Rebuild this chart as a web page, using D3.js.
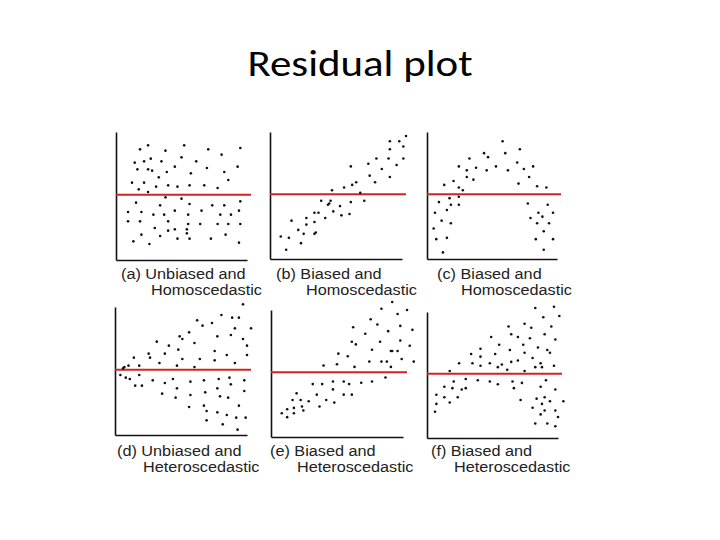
<!DOCTYPE html>
<html>
<head>
<meta charset="utf-8">
<script src="https://cdn.jsdelivr.net/npm/d3@7"></script>
<style>
  body { margin: 0; background: #fff; }
  .panel-label { font-family: "Liberation Sans", Arial, sans-serif; font-size: 14px; fill: #222; }
  .title { font-family: Carlito, Calibri, "Open Sans", sans-serif; font-size: 37px; fill: #000; }
</style>
</head>
<body>
<div id="chart"></div>
<script>
// residuals: [fitted value, residual]
var panelA = [[24,37],[51,37],[18,34],[37,33],[69,34],[93,35],[79,30],[49,28],[26,27],[21,25],[14,24],[34,25],[60,25],[44,21],[91,21],[68,20],[16,19],[24,19],[27,18],[38,17],[56,16],[81,17],[32,13],[84,11],[12,9],[21,9],[39,7],[55,7],[66,7],[46,6],[76,5],[30,6],[17,4],[24,2],[37,-2],[49,-3],[15,-6],[33,-8],[55,-7],[72,-8],[81,-8],[93,-5],[9,-13],[19,-13],[44,-12],[64,-12],[92,-12],[28,-15],[36,-15],[54,-15],[78,-15],[86,-15],[9,-20],[18,-20],[39,-20],[54,-22],[63,-22],[76,-22],[84,-22],[93,-22],[29,-25],[44,-26],[53,-26],[39,-27],[19,-30],[33,-31],[53,-29],[82,-30],[13,-35],[25,-37],[46,-33],[55,-33],[71,-33],[92,-36]];
var panelB = [[101,44],[89,40],[96,40],[89,34],[99,36],[79,27],[73,23],[88,27],[99,27],[60,21],[83,19],[94,22],[74,14],[89,13],[78,9],[64,9],[61,7],[55,5],[46,3],[67,1],[70,-5],[60,-6],[45,-5],[38,-5],[44,-7],[43,-8],[52,-9],[47,-13],[33,-14],[36,-14],[59,-15],[53,-16],[41,-18],[27,-18],[16,-20],[27,-23],[33,-21],[21,-27],[34,-29],[33,-30],[25,-30],[8,-32],[14,-33],[23,-37],[12,-42]];
var panelC = [[57,40],[43,31],[46,28],[59,31],[70,34],[32,27],[68,24],[24,21],[37,20],[52,21],[80,21],[30,18],[45,18],[61,18],[73,19],[30,13],[35,11],[77,13],[20,10],[13,7],[69,8],[24,5],[27,3],[83,6],[90,5],[24,-2],[17,-3],[9,-6],[18,-8],[24,-8],[76,-7],[6,-14],[15,-12],[84,-14],[91,-8],[95,-14],[87,-17],[78,-18],[83,-22],[92,-22],[11,-20],[18,-22],[5,-26],[88,-28],[7,-34],[15,-33],[82,-34],[95,-34],[12,-44],[88,-42]];
var panelD = [[95,49],[79,41],[87,39],[92,39],[61,37],[65,33],[72,35],[89,31],[101,31],[55,28],[48,25],[50,23],[76,25],[86,26],[95,23],[31,21],[59,20],[40,18],[47,15],[98,18],[74,14],[37,12],[25,12],[26,9],[14,9],[83,11],[98,11],[50,8],[63,8],[74,7],[33,5],[10,3],[7,2],[46,3],[59,2],[89,5],[18,3],[6,1],[4,-4],[8,-6],[11,-7],[18,-4],[28,-8],[43,-7],[37,-10],[56,-9],[66,-8],[77,-7],[85,-6],[96,-8],[15,-12],[20,-12],[46,-14],[76,-14],[86,-11],[35,-18],[45,-21],[56,-19],[67,-17],[78,-20],[84,-21],[96,-16],[66,-27],[55,-28],[68,-31],[92,-27],[76,-32],[83,-34],[90,-36],[97,-36],[68,-38],[80,-41],[91,-45]];
var panelE = [[90,53],[82,48],[101,47],[94,44],[74,40],[79,36],[96,35],[61,34],[70,29],[87,31],[105,32],[96,24],[60,23],[63,21],[81,23],[103,20],[75,17],[89,16],[90,16],[94,16],[50,14],[57,12],[97,10],[73,8],[82,8],[86,8],[106,8],[49,6],[39,5],[62,4],[89,4],[85,-4],[31,-9],[38,-9],[46,-7],[54,-7],[58,-9],[67,-8],[75,-7],[46,-13],[19,-16],[34,-17],[54,-17],[60,-17],[16,-21],[22,-21],[28,-22],[41,-21],[47,-23],[23,-26],[17,-27],[36,-26],[12,-28],[24,-29],[8,-31],[12,-34],[17,-31]];
var panelF = [[81,50],[95,51],[87,43],[99,44],[61,36],[73,38],[78,35],[93,36],[63,30],[68,28],[88,30],[48,28],[77,27],[96,26],[54,22],[72,22],[83,20],[40,19],[62,18],[90,18],[92,16],[33,15],[51,15],[73,16],[40,13],[79,12],[24,8],[34,8],[40,6],[47,8],[56,7],[63,9],[68,10],[85,8],[95,6],[53,5],[60,3],[81,5],[86,5],[17,2],[73,2],[89,-5],[20,-6],[29,-4],[38,-5],[47,-6],[53,-8],[64,-6],[71,-7],[13,-10],[19,-11],[29,-11],[26,-12],[65,-11],[85,-10],[96,-12],[7,-16],[13,-18],[23,-18],[17,-22],[7,-23],[70,-20],[82,-19],[88,-18],[92,-21],[102,-21],[86,-23],[79,-26],[88,-28],[96,-28],[6,-29],[85,-31],[98,-33],[81,-38],[90,-38],[96,-40]];

var panelData = [panelA, panelB, panelC, panelD, panelE, panelF];
var panelLabels = [
    ["(a) Unbiased and", "Homoscedastic"],
    ["(b) Biased and", "Homoscedastic"],
    ["(c) Biased and", "Homoscedastic"],
    ["(d) Unbiased and", "Heteroscedastic"],
    ["(e) Biased and", "Heteroscedastic"],
    ["(f) Biased and", "Heteroscedastic"]
];
var xDomain = [0, 98];
var yDomain = [-49, 47];

// where each little plot sits on the slide
var layout = [
    {left: 116, right: 247, top: 132, bottom: 260, lx: 121, indent: 30, ly: 279},
    {left: 270, right: 402, top: 132, bottom: 259, lx: 276, indent: 30, ly: 279},
    {left: 427, right: 557, top: 132, bottom: 259, lx: 437, indent: 24, ly: 279},
    {left: 115, right: 247, top: 307, bottom: 435, lx: 117, indent: 26, ly: 456},
    {left: 271, right: 403, top: 310, bottom: 437, lx: 270, indent: 27, ly: 456},
    {left: 427, right: 558, top: 312, bottom: 438, lx: 431, indent: 23, ly: 456}
];
var stretch = 1.16; // the slide picture is a bit wider than tall

var svg = d3.select("#chart").append("svg")
    .attr("width", 720)
    .attr("height", 540);

svg.append("text")
    .attr("class", "title")
    .attr("transform", "translate(360,76) scale(" + stretch + ",1)")
    .attr("text-anchor", "middle")
    .text("Residual plot");

panelData.forEach(function(data, i){
    var p = layout[i];
    var x = d3.scaleLinear().domain(xDomain).range([p.left, p.right]);
    var y = d3.scaleLinear().domain(yDomain).range([p.bottom, p.top]);

    var g = svg.append("g").attr("class", "panel");

    // bare axes, no ticks
    g.append("g")
        .attr("transform", "translate(0," + p.bottom + ")")
        .call(d3.axisBottom(x).ticks(0).tickSizeOuter(0))
        .select(".domain")
        .attr("stroke", "#111")
        .attr("stroke-width", 1.6);

    g.append("g")
        .attr("transform", "translate(" + p.left + ",0)")
        .call(d3.axisLeft(y).ticks(0).tickSizeOuter(0))
        .select(".domain")
        .attr("stroke", "#111")
        .attr("stroke-width", 1.6);

    // zero residual line
    g.append("line")
        .attr("x1", x(xDomain[0]))
        .attr("x2", x(xDomain[1]) + 4)
        .attr("y1", y(0))
        .attr("y2", y(0))
        .attr("stroke", "#d42222")
        .attr("stroke-width", 2);

    g.selectAll("circle")
        .data(data)
        .enter().append("circle")
        .attr("cx", function(d){ return x(d[0]); })
        .attr("cy", function(d){ return y(d[1]); })
        .attr("r", 1.3)
        .attr("fill", "#111");

    var label = g.append("text")
        .attr("class", "panel-label")
        .attr("transform", "translate(" + p.lx + "," + p.ly + ") scale(" + stretch + ",1)");
    label.append("tspan").attr("x", 0).text(panelLabels[i][0]);
    label.append("tspan")
        .attr("x", p.indent / stretch)
        .attr("dy", 16)
        .text(panelLabels[i][1]);
});
</script>
</body>
</html>
